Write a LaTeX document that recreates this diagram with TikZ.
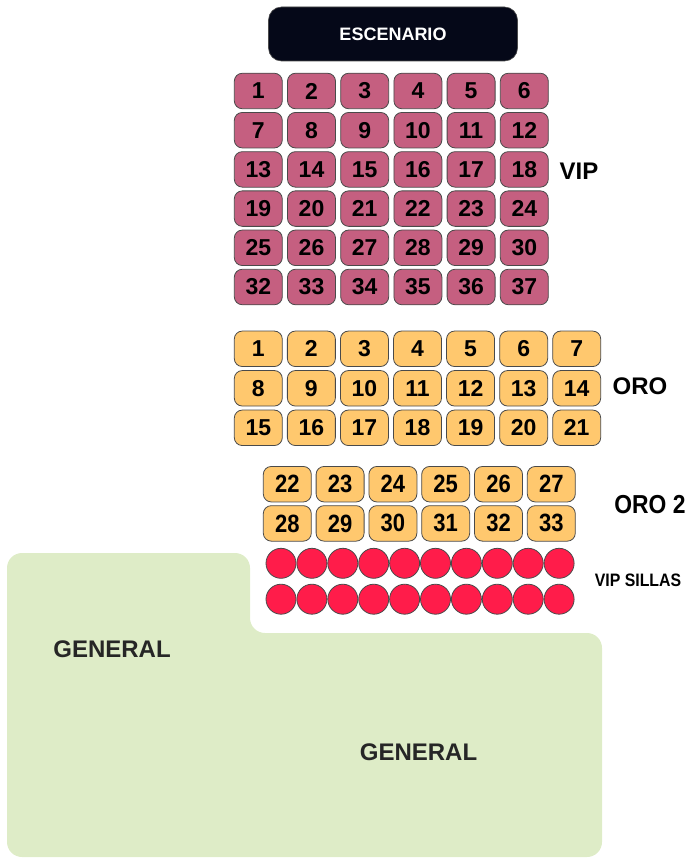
\documentclass[tikz,border=0pt]{standalone}
\usepackage{fontspec}
\setmainfont{Liberation Sans}
\newfontfamily\narrowsans[FakeStretch=0.88]{Liberation Sans}
\definecolor{vipc}{HTML}{C55F80}
\definecolor{oroc}{HTML}{FFC86E}
\definecolor{chairc}{HTML}{FF1C4A}
\definecolor{greenc}{HTML}{DEECC7}
\definecolor{stagec}{HTML}{050818}
\definecolor{borderc}{HTML}{4A4A4A}
\begin{document}
\begin{tikzpicture}[x=1pt,y=-1pt,
  seat/.style={draw=borderc, line width=0.8pt, rounded corners=8pt, minimum width=48pt, minimum height=35.5pt, inner sep=0pt, text=black, font=\fontsize{23}{23}\selectfont\bfseries},
  vipseat/.style={seat, fill=vipc},
  oroseat/.style={seat, fill=oroc},
  oronarrow/.style={oroseat, font=\narrowsans\fontsize{25}{25}\selectfont\bfseries},
  chair/.style={circle, draw=borderc, line width=0.8pt, fill=chairc, minimum size=30pt, inner sep=0pt},
  zonelabel/.style={font=\fontsize{24}{24}\selectfont\bfseries, inner sep=0pt},
  genlabel/.style={font=\fontsize{24}{24}\selectfont\bfseries, text=black!85, inner sep=0pt}]
\useasboundingbox (0,0) rectangle (700,864);
% general area
\fill[greenc, rounded corners=15pt] (7,857) -- (7,553) -- (250,553) -- (250,633) -- (602,633) -- (602,857) -- cycle;
% stage
\node[fill=stagec, draw=borderc, line width=0.6pt, rounded corners=13pt, minimum width=249pt, minimum height=54pt, inner sep=0pt, text=white, font=\fontsize{18}{18}\selectfont\bfseries] (stage) at (393,34) {ESCENARIO};
% VIP
\foreach \j in {0,...,5}{
  \foreach \i in {0,...,5}{
    \pgfmathtruncatemacro\n{\j<5 ? 6*\j+\i+1 : 32+\i}
    \node[vipseat] (vip\n) at ({258.3+53.2*\i},{91+39.2*\j}) {\n};
  }
}
% ORO
\foreach \j in {0,...,2}{
  \foreach \i in {0,...,6}{
    \pgfmathtruncatemacro\n{7*\j+\i+1}
    \node[oroseat] (oro\n) at ({258.3+53.07*\i},{348.8+39.5*\j}) {\n};
  }
}
% ORO 2
\foreach \j in {0,...,1}{
  \foreach \i in {0,...,5}{
    \pgfmathtruncatemacro\n{22+6*\j+\i}
    \node[oronarrow] (orob\n) at ({287.3+52.8*\i},{484.2+39.2*\j}) {\n};
  }
}
% VIP chairs
\foreach \j in {0,...,1}{
  \foreach \i in {0,...,9}{
    \node[chair] (chair-\j-\i) at ({281+30.9*\i},{563.3+35.9*\j}) {};
  }
}
% labels
\node[zonelabel] (labvip) at (579,171) {VIP};
\node[zonelabel] (laboro) at (640,386) {ORO};
\node[font=\narrowsans\fontsize{26}{26}\selectfont\bfseries, inner sep=0pt] (laboro2) at (650,505) {ORO 2};
\node[font=\narrowsans\fontsize{18}{18}\selectfont\bfseries, inner sep=0pt] (labsillas) at (638,580) {VIP SILLAS};
\node[genlabel] (gen1) at (112,649) {GENERAL};
\node[genlabel] (gen2) at (418.5,752) {GENERAL};
\end{tikzpicture}
\end{document}
